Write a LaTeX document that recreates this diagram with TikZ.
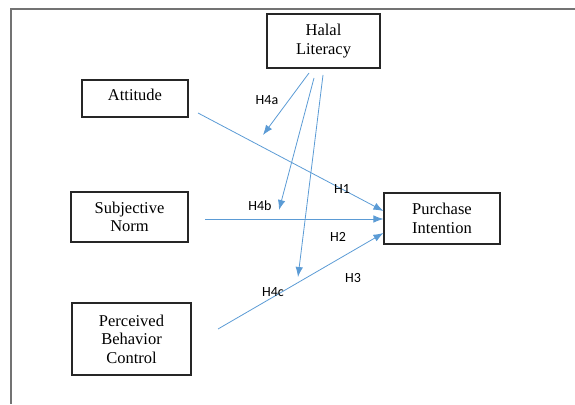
\documentclass[tikz,border=0pt]{standalone}
\usepackage{fontspec}
\setmainfont{Liberation Serif}
\newfontfamily\lblfont{Carlito}
\usetikzlibrary{arrows.meta}
\definecolor{arrowblue}{RGB}{91,155,213}
\tikzstyle{block} = [rectangle, draw=black!85, line width=1.1pt, align=center,
    inner sep=0pt, font=\fontsize{16.5}{18.5}\selectfont]
\tikzstyle{hyp} = [font=\lblfont\fontsize{14}{15}\selectfont, inner sep=0pt]
\tikzset{
  line/.style ={draw=arrowblue, line width=0.8pt, -{Latex[length=10pt,width=7.5pt]}, shorten >=0pt}
}
\begin{document}
\begin{tikzpicture}[x=1pt, y=-1pt]
   \useasboundingbox (0,0) rectangle (575,404);
   % page frame
   \draw [black!55, line width=1.5pt] (575,9) -- (11,9) -- (11,404);
   % constructs
   \node [block, minimum width=113pt, minimum height=54pt] (halal) at (323.5,41) {Halal\\Literacy};
   \node [block, minimum width=106pt, minimum height=37pt] (attitude) at (135,98.5) {\raisebox{8pt}{Attitude}};
   \node [block, minimum width=117pt, minimum height=50pt] (norm) at (129.5,217) {Subjective\\Norm};
   \node [block, minimum width=119pt, minimum height=72pt] (pbc) at (131.5,339) {Perceived\\Behavior\\Control};
   \node [block, minimum width=116pt, minimum height=51pt] (intention) at (442,218.5) {Purchase\\Intention};
   % arrow ends
   \coordinate (att_out) at (198,113);
   \coordinate (norm_out) at (205,219);
   \coordinate (pbc_out) at (218,329);
   \coordinate (hl_a) at (309,73);
   \coordinate (hl_b) at (314,78);
   \coordinate (hl_c) at (323,75);
   \coordinate (mod_a) at (263,135);
   \coordinate (mod_b) at (279,210);
   \coordinate (mod_c) at (298,277);
   % direct paths
   \path [line] (att_out) -- (intention.west |- 0,211);
   \path [line] (norm_out) -- (intention.west |- 0,219);
   \path [line] (pbc_out) -- (intention.west |- 0,233);
   % moderation
   \path [line] (hl_a) -- (mod_a);
   \path [line] (hl_b) -- (mod_b);
   \path [line] (hl_c) -- (mod_c);
   % labels
   \node [hyp] (h4a) at (267,100) {H4a};
   \node [hyp] (h1) at (342,189) {H1};
   \node [hyp] (h4b) at (260,206) {H4b};
   \node [hyp] (h2) at (338,237) {H2};
   \node [hyp] (h3) at (353,278) {H3};
   \node [hyp] (h4c) at (273,292) {H4c};
\end{tikzpicture}
\end{document}
